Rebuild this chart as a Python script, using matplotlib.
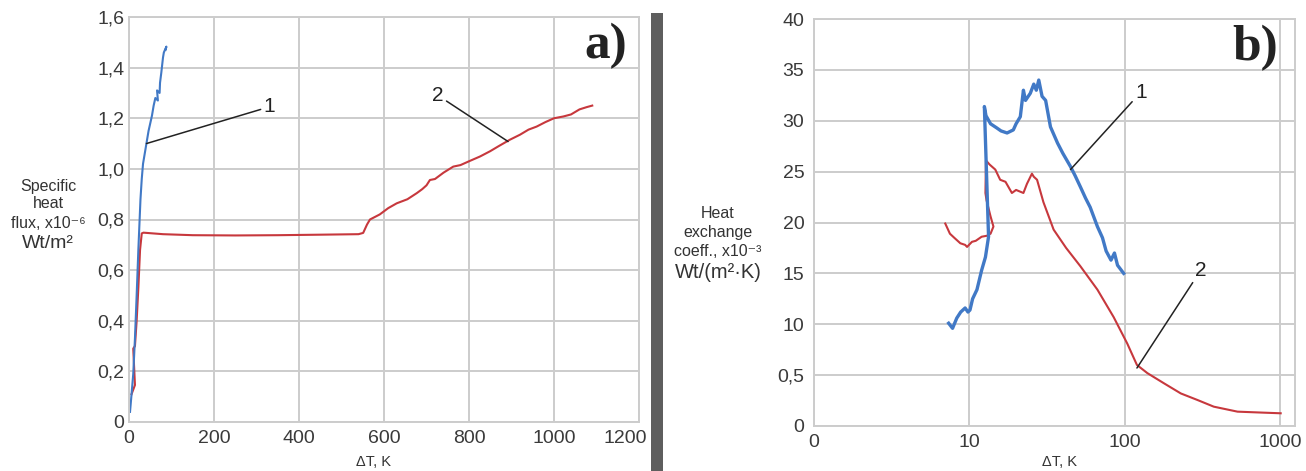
import matplotlib
matplotlib.use("Agg")
import matplotlib.pyplot as plt
from matplotlib.patches import Rectangle
from matplotlib.transforms import ScaledTranslation

plt.rcParams['font.family'] = ['Liberation Sans', 'DejaVu Sans']

# ---------------- data: panel a) ----------------
a_blue_x = [2.4, 6, 10, 14, 18, 22, 25, 27, 30, 33, 38, 42, 46, 50, 54, 58, 62, 68, 66, 72, 73, 76, 78, 80, 82, 88, 86]
a_blue_y = [0.04, 0.11, 0.19, 0.33, 0.50, 0.68, 0.80, 0.88, 0.96, 1.02, 1.07, 1.11, 1.15, 1.18, 1.21, 1.25, 1.28, 1.27, 1.31, 1.30, 1.34, 1.38, 1.41, 1.44, 1.46, 1.483, 1.47]

a_red_x = [6, 14, 10, 14, 18, 22, 26, 30, 34, 80, 150, 250, 350, 450, 540, 551, 560, 567, 590, 610, 630, 655, 677, 690, 700, 708,
           720, 740, 763, 780, 800, 826, 850, 870, 896, 920, 940, 959, 980, 1000, 1022, 1040, 1060, 1077, 1090]
a_red_y = [0.11, 0.146, 0.29, 0.30, 0.40, 0.53, 0.68, 0.745, 0.748, 0.742, 0.738, 0.737, 0.738, 0.740, 0.742, 0.747, 0.78, 0.80,
           0.82, 0.845, 0.864, 0.88, 0.904, 0.92, 0.935, 0.956, 0.96, 0.985, 1.009, 1.015, 1.03, 1.049, 1.07, 1.09, 1.115, 1.135,
           1.155, 1.167, 1.185, 1.20, 1.207, 1.215, 1.235, 1.244, 1.25]

a_xticks = [0, 200, 400, 600, 800, 1000, 1200]
a_yticks = [0, 0.2, 0.4, 0.6, 0.8, 1.0, 1.2, 1.4, 1.6]
a_yticklabels = ['0', '0,2', '0,4', '0,6', '0,8', '1,0', '1,2', '1,4', '1,6']

# ---------------- data: panel b) ----------------
b_blue_x = [7.36, 7.8, 8.3, 8.8, 9.4, 9.8, 10.1, 10.5, 11.2, 12.0, 12.7, 13.3, 12.5, 12.8, 13.7, 15, 16, 17.5, 19.2, 20, 21.3,
            22.3, 23, 24.7, 26, 27, 28, 29.4, 31, 33.3, 37, 40, 44.8, 48, 51.9, 56, 60, 66.8, 72, 76, 81.7, 86, 90, 98.6]
b_blue_y = [10.1, 9.6, 10.6, 11.2, 11.6, 11.2, 11.4, 12.5, 13.4, 15.3, 16.6, 18.6, 31.4, 30.5, 29.7, 29.3, 29.0, 28.8, 29.1,
            29.7, 30.4, 33.0, 32.0, 32.7, 33.6, 33.0, 34.0, 32.4, 32.0, 29.4, 27.8, 26.8, 25.5, 24.6, 23.5, 22.4, 21.5, 19.6,
            18.5, 17.2, 16.3, 17.0, 15.8, 15.0]

b_red_x = [7.0, 7.5, 8.0, 8.75, 9.4, 9.67, 10.4, 11.0, 12.0, 13.0, 13.7, 14.3, 13.7, 12.9, 12.7, 12.8, 13.5, 14.7, 15.8, 17.1,
           18.8, 20, 22.3, 23.5, 25.3, 26, 27.3, 30, 34.9, 42, 51.9, 66.8, 85, 104, 120, 140, 179, 230, 295, 375, 533, 790, 1011]
b_red_y = [19.9, 18.9, 18.5, 17.96, 17.8, 17.6, 18.1, 18.2, 18.6, 18.7, 18.9, 19.6, 20.6, 22.2, 22.9, 26.1, 25.7, 25.2, 24.2,
           24.0, 22.9, 23.2, 22.9, 23.8, 24.8, 24.5, 24.2, 22.0, 19.3, 17.5, 15.7, 13.4, 10.7, 8.1, 6.0, 5.2, 4.2, 3.2, 2.55,
           1.9, 1.41, 1.31, 1.25]

b_xticks = [1, 10, 100, 1000]
b_xticklabels = ['0', '10', '100', '1000']
b_yticks = [0, 5, 10, 15, 20, 25, 30, 35, 40]
b_yticklabels = ['0', '0,5', '10', '15', '20', '25', '30', '35', '40']

BLUE = '#4179c6'
RED = '#c7383d'
GRID = '#cccccc'
TICK = '#3a3a3a'

fig = plt.figure(figsize=(13.06, 4.71), dpi=100)
W, H = 1306, 471

def style(ax, ypad):
    ax.grid(True, color=GRID, lw=1.4)
    ax.set_axisbelow(True)
    for s in ax.spines.values():
        s.set_color(GRID)
        s.set_linewidth(1.4)
    ax.tick_params(length=0, labelsize=14, colors=TICK)
    ax.tick_params(axis='x', pad=6)
    ax.tick_params(axis='y', pad=ypad)
    ax.minorticks_off()

# panel a
ax1 = fig.add_axes([129 / W, (H - 422) / H, 510 / W, 405 / H])
ax1.plot(a_red_x, a_red_y, color=RED, lw=1.5)
ax1.plot(a_blue_x, a_blue_y, color=BLUE, lw=1.5)
ax1.set_xlim(0, 1200)
ax1.set_ylim(0, 1.6)
ax1.set_xticks(a_xticks)
ax1.set_yticks(a_yticks)
ax1.set_yticklabels(a_yticklabels)
style(ax1, 3.5)
last = ax1.get_xticklabels()[-1]
last.set_transform(last.get_transform() + ScaledTranslation(-14 / 100, 0, fig.dpi_scale_trans))
ax1.annotate('1', xy=(41, 1.10), xytext=(330, 1.245), ha='center', va='center', fontsize=15, color='#222222',
             arrowprops=dict(arrowstyle='-', color='#222222', lw=1.1, shrinkA=0, shrinkB=0))
ax1.annotate('2', xy=(892, 1.108), xytext=(727, 1.29), ha='center', va='center', fontsize=15, color='#222222',
             arrowprops=dict(arrowstyle='-', color='#222222', lw=1.1, shrinkA=0, shrinkB=0))
ax1.text(0.977, 0.985, 'a)', transform=ax1.transAxes, ha='right', va='top', fontsize=37, fontweight='bold',
         family='Liberation Serif', color='#222222')

# panel b
ax2 = fig.add_axes([814 / W, (H - 426) / H, 481 / W, 407 / H])
ax2.plot(b_red_x, b_red_y, color=RED, lw=1.5)
ax2.plot(b_blue_x, b_blue_y, color=BLUE, lw=2.4)
ax2.set_xscale('log')
ax2.set_xlim(1, 1250)
ax2.set_ylim(0, 40)
ax2.set_xticks(b_xticks)
ax2.set_xticklabels(b_xticklabels)
ax2.set_yticks(b_yticks)
ax2.set_yticklabels(b_yticklabels)
style(ax2, 7)
ax2.annotate('1', xy=(44.8, 25.2), xytext=(127, 32.8), ha='center', va='center', fontsize=15, color='#222222',
             arrowprops=dict(arrowstyle='-', color='#222222', lw=1.1, shrinkA=0, shrinkB=0))
ax2.annotate('2', xy=(120, 5.7), xytext=(309, 15.3), ha='center', va='center', fontsize=15, color='#222222',
             arrowprops=dict(arrowstyle='-', color='#222222', lw=1.1, shrinkA=0, shrinkB=0))
ax2.text(0.965, 0.985, 'b)', transform=ax2.transAxes, ha='right', va='top', fontsize=37, fontweight='bold',
         family='Liberation Serif', color='#222222')

# axis titles
def ft(x, y, s, size):
    fig.text(x / W, 1 - y / H, s, ha='center', va='center', fontsize=size, color='#333333',
             family=['Liberation Sans', 'DejaVu Sans'])

ft(48, 186, 'Specific', 11.5)
ft(48, 204, 'heat', 11.5)
ft(48, 223, 'flux, x10⁻⁶', 11.5)
ft(48, 244, 'Wt/m²', 14)
ft(718, 213, 'Heat', 11.5)
ft(718, 232, 'exchange', 11.5)
ft(718, 251, 'coeff., x10⁻³', 11.5)
ft(718, 272, 'Wt/(m²·K)', 14.5)
ft(373, 462, 'ΔT, K', 10.5)
ft(1060, 462, 'ΔT, K', 10.5)

# separator bar
fig.patches.append(Rectangle((651 / W, 0), 12 / W, 1 - 13 / H, transform=fig.transFigure,
                             facecolor='#5e5e5e', edgecolor='none'))

fig.savefig('out.png', dpi=100)
